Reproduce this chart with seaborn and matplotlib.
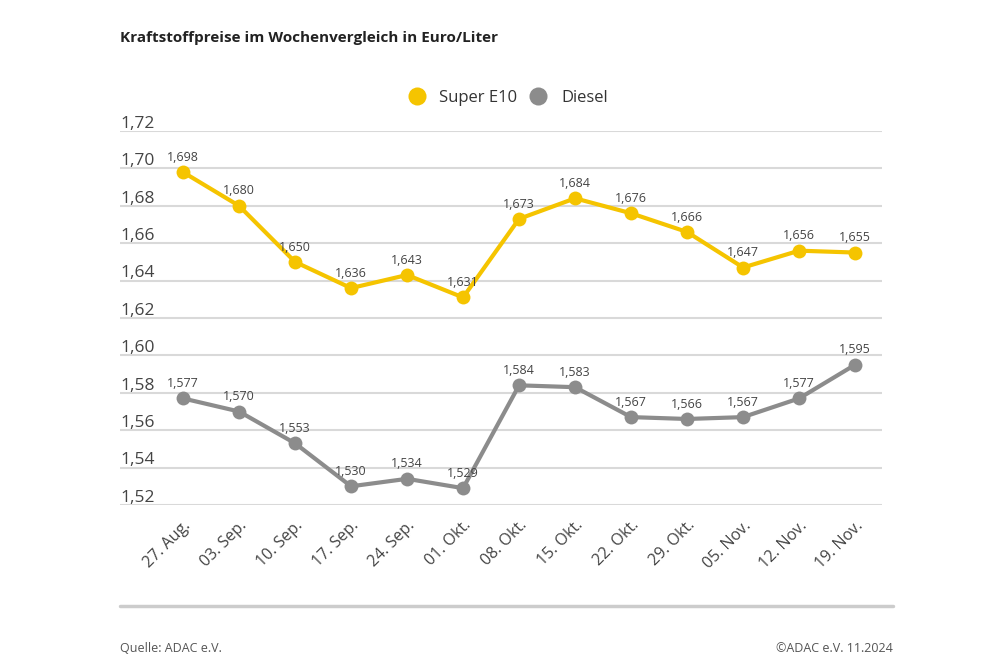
import matplotlib
matplotlib.use("Agg")
import matplotlib.pyplot as plt
from matplotlib.lines import Line2D
import matplotlib.transforms as mtransforms
import pandas as pd
import seaborn as sns

WEEKS = ["27. Aug.", "03. Sep.", "10. Sep.", "17. Sep.", "24. Sep.", "01. Okt.", "08. Okt.",
         "15. Okt.", "22. Okt.", "29. Okt.", "05. Nov.", "12. Nov.", "19. Nov."]
SUPER_E10 = [1.698, 1.680, 1.650, 1.636, 1.643, 1.631, 1.673, 1.684, 1.676, 1.666, 1.647, 1.656, 1.655]
DIESEL = [1.577, 1.570, 1.553, 1.530, 1.534, 1.529, 1.584, 1.583, 1.567, 1.566, 1.567, 1.577, 1.595]
Y_TICKS = [1.52, 1.54, 1.56, 1.58, 1.60, 1.62, 1.64, 1.66, 1.68, 1.70, 1.72]
SERIES = ["Super E10", "Diesel"]
COLORS = {"Super E10": "#F5C400", "Diesel": "#8C8C8C"}

sns.set_theme(style="white")
plt.rcParams["font.family"] = ["Open Sans", "DejaVu Sans"]

df = pd.DataFrame({
    "idx": list(range(len(WEEKS))) * 2,
    "price": SUPER_E10 + DIESEL,
    "fuel": ["Super E10"] * len(WEEKS) + ["Diesel"] * len(WEEKS),
})

fig = plt.figure(figsize=(10, 6.67), dpi=100)
ax = fig.add_axes([0.12, 1 - 505 / 667, 0.762, (505 - 131) / 667])

sns.lineplot(data=df, x="idx", y="price", hue="fuel", palette=COLORS, hue_order=SERIES,
             marker="o", markersize=10, markeredgewidth=0, linewidth=3, legend=False,
             ax=ax, clip_on=False, zorder=3)

ax.set_xlim(-1.125, 12.48)
ax.set_ylim(Y_TICKS[0], Y_TICKS[-1])
ax.set_yticks(Y_TICKS)
ax.set_yticklabels([])
ax.tick_params(axis="y", length=0)
ax.grid(axis="y", color="#d9d9d9", linewidth=1.5)
ax.grid(axis="x", visible=False)
for side in ax.spines.values():
    side.set_visible(False)
ax.set_xlabel("")
ax.set_ylabel("")

# y labels sit just above the gridlines, left aligned
trans = mtransforms.blended_transform_factory(ax.transAxes, ax.transData)
for val in Y_TICKS:
    ax.text(0.0, val + 0.0017, f"{val:.2f}".replace(".", ","), transform=trans,
            ha="left", va="baseline", fontsize=12.5, color="#444444")

ax.set_xticks(range(len(WEEKS)))
ax.set_xticklabels(WEEKS, rotation=45, ha="right", rotation_mode="anchor",
                   fontsize=11.5, color="#444444")
ax.tick_params(axis="x", length=0, pad=9)

# point labels
for name, vals in (("Super E10", SUPER_E10), ("Diesel", DIESEL)):
    for i, v in enumerate(vals):
        ax.annotate(f"{v:.3f}".replace(".", ","), (i, v), xytext=(0, 6),
                    textcoords="offset points", ha="center", va="bottom",
                    fontsize=9, color="#444444", zorder=4)

handles = [Line2D([], [], marker="o", linestyle="none", markersize=13,
                  markerfacecolor=COLORS[s], markeredgewidth=0) for s in SERIES]
fig.legend(handles, SERIES, loc="center", bbox_to_anchor=(0.504, 1 - 98 / 667), ncol=2,
           frameon=False, fontsize=12, handletextpad=0.35, columnspacing=0.25,
           labelcolor="#333333")

fig.text(0.12, 1 - 38 / 667, "Kraftstoffpreise im Wochenvergleich in Euro/Liter",
         fontsize=11, fontweight="bold", color="#222222", ha="left", va="center")

fig.add_artist(Line2D([0.12, 0.893], [1 - 606 / 667] * 2, color="#cccccc", linewidth=2.5))
fig.text(0.12, 1 - 648 / 667, "Quelle: ADAC e.V.", fontsize=9, color="#555555",
         ha="left", va="center")
fig.text(0.893, 1 - 648 / 667, "\u00a9ADAC e.V. 11.2024", fontsize=9, color="#555555",
         ha="right", va="center")

fig.savefig("out.png", dpi=100, facecolor="white")
